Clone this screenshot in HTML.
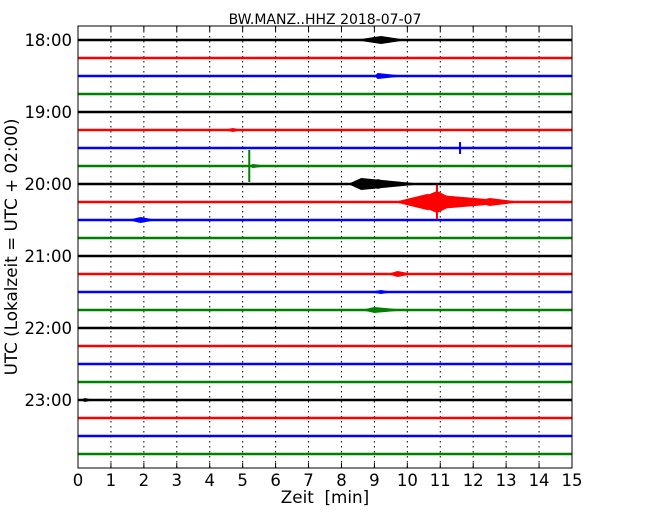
<!DOCTYPE html>
<html><head><meta charset="utf-8"><style>
html,body{margin:0;padding:0;background:#fff;}
svg{display:block;font-family:"DejaVu Sans","Liberation Sans",sans-serif;}
</style></head><body>
<svg id="chart" width="650" height="520" viewBox="0 0 650 520">
<rect x="0" y="0" width="650" height="520" fill="#fff"/>
<text x="325" y="24" font-size="14" text-anchor="middle">BW.MANZ..HHZ 2018-07-07</text>
<g id="grid"></g>
<g id="traces"></g>
<g id="axes"></g>
<text x="325" y="503" font-size="16.8" text-anchor="middle" style="white-space:pre">Zeit  [min]</text>
<text transform="translate(17,247) rotate(-90)" font-size="16.8" text-anchor="middle">UTC (Lokalzeit = UTC + 02:00)</text>
</svg>
<script>
const xTicks = [0,1,2,3,4,5,6,7,8,9,10,11,12,13,14,15];
const traceCount = 24;
const hourLabels = ["18:00","19:00","20:00","21:00","22:00","23:00"];
const colors = ["#000","#f00","#00f","#008000"];
// events: trace index, start min, peak min, end min, half amplitude (trace units)
const evTrace = [0, 2, 5, 7, 8, 8, 9, 9, 9, 10, 13, 14, 15, 20];
const evStart = [8.4, 9.0, 4.4, 5.2, 8.2, 8.9, 9.6, 10.1, 12.0, 1.5, 9.4, 8.8, 8.6, 0.1];
const evPeak  = [9.2, 9.1, 4.7, 5.3, 8.6, 9.1, 10.6, 10.9, 12.5, 1.9, 9.7, 9.2, 9.0, 0.2];
const evEnd   = [10.0, 10.0, 5.0, 5.8, 10.5, 9.6, 13.5, 11.6, 13.5, 2.4, 10.2, 9.6, 10.0, 0.5];
const evAmp   = [4, 3, 2, 2, 6, 5, 8, 11, 4, 3, 3, 2, 3, 2];
// spikes: trace, minute, half amplitude
const spTrace = [6, 7, 9];
const spMin = [11.6, 5.2, 10.9];
const spAmp = [6, 16, 17];

const L=78,R=572,T=26,B=468,Y0=40,DY=18;
const xs = m => L + (R-L)*m/15;
const ys = i => Y0 + DY*i;
const NS="http://www.w3.org/2000/svg";
function mk(tag,attrs,parent){const e=document.createElementNS(NS,tag);for(const k in attrs)e.setAttribute(k,attrs[k]);parent.appendChild(e);return e;}
const grid=document.getElementById('grid'),tr=document.getElementById('traces'),ax=document.getElementById('axes');

xTicks.forEach(t=>{
  const g=mk('line',{x1:xs(t),x2:xs(t),y1:T,y2:B,stroke:'#000','stroke-width':1,'stroke-dasharray':'1.5,3.5'},grid);
  
  
  const tk=mk('line',{x1:xs(t),x2:xs(t),y1:B,y2:B-5,stroke:'#000'},ax);
  
  
  const tk2=mk('line',{x1:xs(t),x2:xs(t),y1:T,y2:T+5,stroke:'#000'},ax);
  
  
  const lb=mk('text',{x:xs(t),y:B+18,'font-size':16.5,'text-anchor':'middle'},ax);
  lb.textContent=t;
  
  
});

for(let i=0;i<traceCount;i++){
  const ln=mk('line',{x1:L,x2:R,y1:ys(i),y2:ys(i),stroke:colors[i%4],'stroke-width':2.6},tr);
  
  
}
evTrace.forEach((ti,k)=>{
  const y=ys(ti),a=evAmp[k],c=colors[ti%4];
  const p=[[xs(evStart[k]),y],[xs(evPeak[k]),y-a],[xs(evEnd[k]),y],[xs(evPeak[k]),y+a]];
  const pg=mk('polygon',{points:p.map(q=>q.join(',')).join(' '),fill:c},tr);
  
  
});
spTrace.forEach((ti,k)=>{
  const y=ys(ti);
  const s=mk('line',{x1:xs(spMin[k]),x2:xs(spMin[k]),y1:y-spAmp[k],y2:y+spAmp[k],stroke:colors[ti%4],'stroke-width':2},tr);
  
  
});

hourLabels.forEach((h,k)=>{
  const y=ys(k*4);
  const lb=mk('text',{x:72,y:y+6,'font-size':16.5,'text-anchor':'end'},ax);
  lb.textContent=h;
  
  
});
const fr=mk('rect',{x:L,y:T,width:R-L,height:B-T,fill:'none',stroke:'#000','stroke-width':1},ax);


</script>
</body></html>
